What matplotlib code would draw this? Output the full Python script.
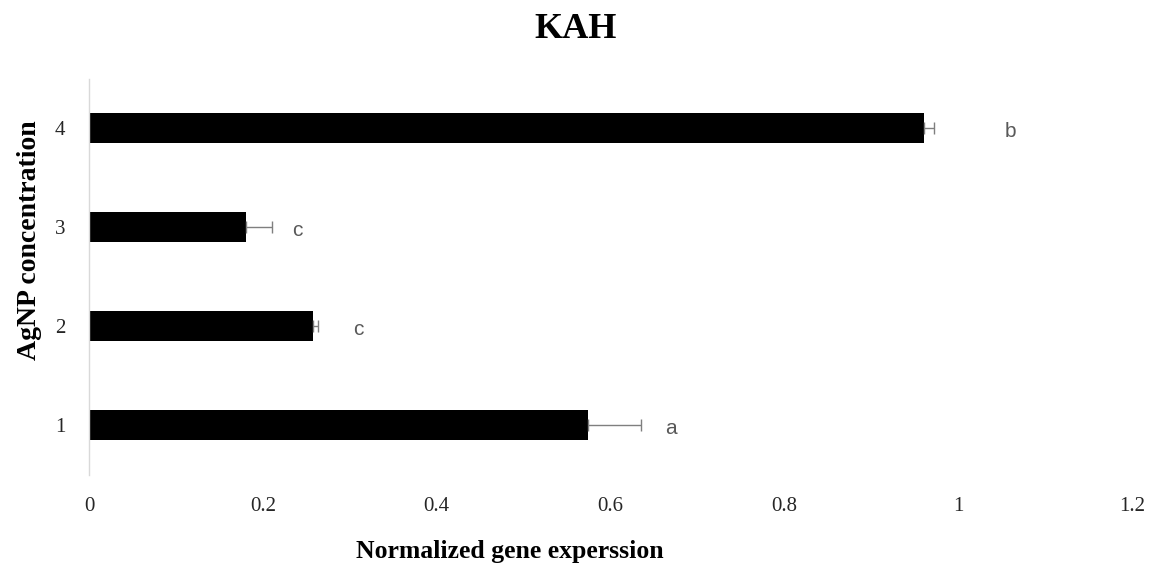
import matplotlib.pyplot as plt

# AgNP concentration levels and KAH expression values
levels = [1, 2, 3, 4]
expression = [0.574, 0.258, 0.181, 0.961]
std_err = [0.061, 0.005, 0.030, 0.0115]
groups = ["a", "c", "c", "b"]
group_x = [0.67, 0.31, 0.24, 1.06]

serif = ["Liberation Serif", "DejaVu Serif"]

fig = plt.figure(figsize=(11.51, 5.74), dpi=100)
ax = fig.add_axes([0.0773, 0.1733, 0.906, 0.6897])

ax.barh(levels, expression, height=0.3, color="black",
        xerr=[[0] * len(std_err), std_err],
        error_kw=dict(ecolor="#7f7f7f", elinewidth=1, capsize=4, capthick=1))

# significance letters
for y, gx, g in zip(levels, group_x, groups):
    ax.text(gx, y - 0.03, g, ha="center", va="center", fontsize=15,
            color="#595959", family="Liberation Sans")

ax.set_xlim(0, 1.2)
ax.set_ylim(0.5, 4.5)
ax.set_xticks([0, 0.2, 0.4, 0.6, 0.8, 1.0, 1.2])
ax.set_xticklabels(["0", "0.2", "0.4", "0.6", "0.8", "1", "1.2"])
ax.set_yticks(levels)
ax.tick_params(length=0, labelsize=15, labelcolor="#262626")
ax.tick_params(axis="x", pad=16)
ax.tick_params(axis="y", pad=17)
for lab in ax.get_xticklabels() + ax.get_yticklabels():
    lab.set_family(serif)

for side in ["top", "right", "bottom"]:
    ax.spines[side].set_visible(False)
ax.spines["left"].set_color("#d9d9d9")
ax.spines["left"].set_linewidth(1)

fig.text(0.5, 0.948, "KAH", ha="center", va="center", fontsize=26,
         fontweight="bold", family=serif)
fig.text(0.443, 0.04, "Normalized gene experssion", ha="center", va="center",
         fontsize=18.5, fontweight="bold", family=serif)
fig.text(0.026, 0.582, "AgNP concentration", ha="center", va="center",
         rotation=90, fontsize=20, fontweight="bold", family=serif)

fig.savefig("out.png", dpi=100)
